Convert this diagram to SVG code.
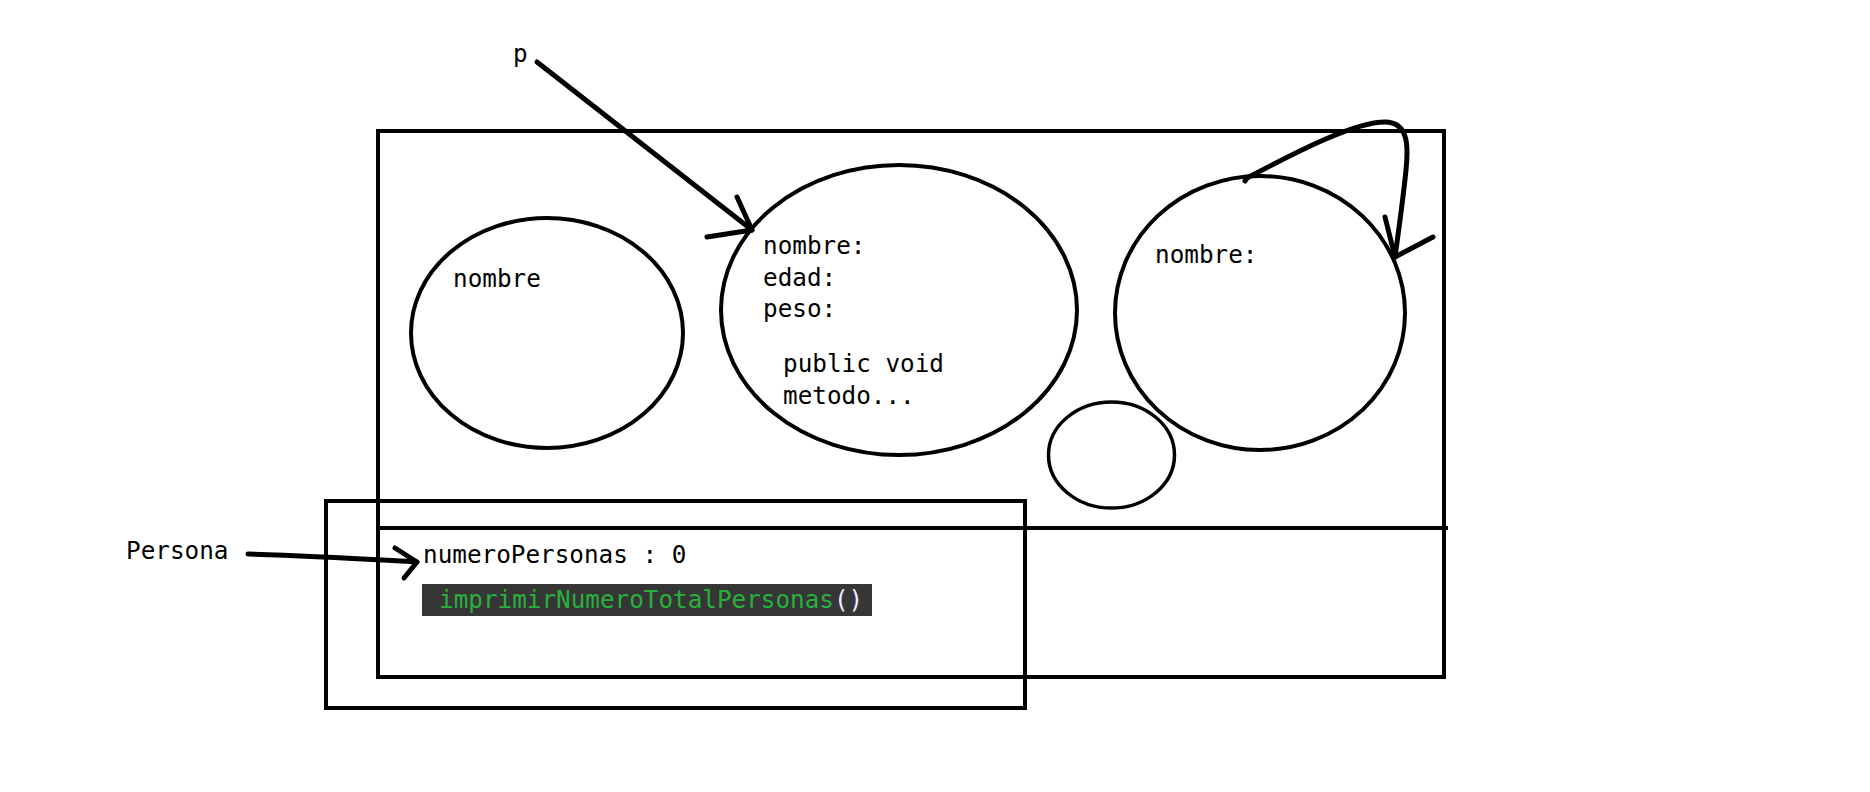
<svg xmlns="http://www.w3.org/2000/svg" width="1870" height="792" viewBox="0 0 1870 792">
  <style>
    .shape { fill: none; stroke: #000; stroke-width: 4; }
    .thin { fill: none; stroke: #000; stroke-width: 3.5; }
    .conn { fill: none; stroke: #000; stroke-width: 5; stroke-linecap: round; stroke-linejoin: round; }
    .t { font-family: "DejaVu Sans Mono", "Liberation Mono", monospace; font-size: 24.3px; fill: #000; }
    .code { font-family: "DejaVu Sans Mono", "Liberation Mono", monospace; font-size: 24.3px; fill: #28b03c; }
    .paren { fill: #e6eeff; }
  </style>
  <rect width="1870" height="792" fill="#fff"/>

  <g id="heap">
    <rect class="shape" x="378" y="131" width="1066" height="546"/>
    <line class="shape" x1="378" y1="528" x2="1448" y2="528"/>
  </g>

  <g id="obj-left">
    <ellipse class="shape" cx="547" cy="333" rx="136" ry="115"/>
    <text class="t" x="453" y="287">nombre</text>
  </g>

  <g id="obj-middle">
    <ellipse class="shape" cx="899" cy="310" rx="178" ry="145"/>
    <text class="t" x="763" y="254">nombre:</text>
    <text class="t" x="763" y="286">edad:</text>
    <text class="t" x="763" y="317">peso:</text>
    <text class="t" x="783" y="372">public void</text>
    <text class="t" x="783" y="404">metodo...</text>
  </g>

  <g id="obj-right">
    <ellipse class="shape" cx="1260" cy="313" rx="145" ry="137"/>
    <text class="t" x="1155" y="263">nombre:</text>
  </g>

  <g id="obj-small">
    <ellipse class="thin" cx="1111.5" cy="455" rx="63" ry="53"/>
  </g>

  <g id="persona-class">
    <rect class="shape" x="326" y="501" width="699" height="207"/>
    <text class="t" x="423" y="563">numeroPersonas : 0</text>
    <rect x="422" y="584" width="450" height="32" fill="#363636"/>
    <text class="code" x="439" y="608">imprimirNumeroTotalPersonas<tspan class="paren">()</tspan></text>
  </g>

  <g id="label-p">
    <text class="t" x="513" y="62">p</text>
  </g>
  <g id="label-persona">
    <text class="t" x="126" y="559">Persona</text>
  </g>

  <g id="connectors">
    <line class="conn" x1="537" y1="62" x2="752" y2="230"/>
    <polyline class="conn" points="737,197 752,230 707,237"/>

    <path class="conn" d="M1245,181 L1247,178 C1300,150 1355,122 1385,122 C1410,122 1408,150 1406,170 C1403,200 1398,235 1395,257"/>
    <polyline class="conn" points="1385,217 1395,257 1433,237"/>

    <path class="conn" d="M248,554 C320,556 380,560 417,562"/>
    <polyline class="conn" points="395,548 417,562 404,578"/>
  </g>
</svg>
